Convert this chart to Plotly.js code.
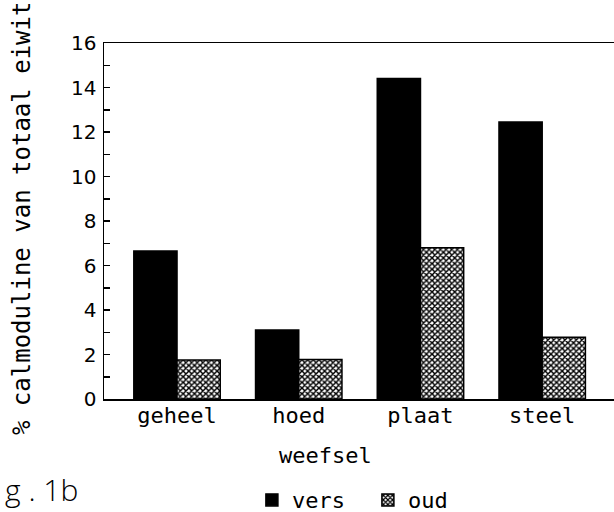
<!DOCTYPE html>
<html>
<head>
<meta charset="utf-8">
<script src="https://cdn.plot.ly/plotly-3.0.1.min.js"></script>
<style>html,body{margin:0;padding:0;background:#fff;}#chart{width:614px;height:512px;}</style>
</head>
<body>
<div id="chart"></div>
<script>
const categories = ["geheel", "hoed", "plaat", "steel"];
const versValues = [6.65, 3.1, 14.4, 12.45];
const oudValues = [1.75, 1.78, 6.8, 2.77];
const yTickVals = [0, 2, 4, 6, 8, 10, 12, 14, 16];
const seriesNames = ["vers", "oud"];
const yTitle = "% calmoduline van totaal eiwit";
const xTitle = "weefsel";
const figLabel = "g . 1b";

const mono = "DejaVu Sans Mono";
const traces = [
  {
    type: "bar", name: seriesNames[0], x: categories, y: versValues,
    marker: {color: "#000", line: {color: "#000", width: 1.5}}
  },
  {
    type: "bar", name: seriesNames[1], x: categories, y: oudValues,
    marker: {color: "#fff", line: {color: "#000", width: 1.5},
      pattern: {shape: "x", size: 4, solidity: 0.6, fgcolor: "#000", bgcolor: "#fff"}}
  }
];
const layout = {
  width: 614, height: 512,
  margin: {l: 104, r: 0, t: 43, b: 113, autoexpand: false},
  paper_bgcolor: "#fff", plot_bgcolor: "#fff",
  barmode: "group", bargap: 0.29, bargroupgap: 0,
  showlegend: true,
  legend: {orientation: "h", x: 0.29, y: -0.225, xanchor: "left", yanchor: "top",
    font: {family: mono, size: 22, color: "#000"}, itemwidth: 30, tracegroupgap: 0,
    entrywidth: 71},
  xaxis: {
    range: [-0.6, 3.59], showline: true, linecolor: "#000", linewidth: 1.5, mirror: true,
    ticks: "", showgrid: false, zeroline: false, ticklabelstandoff: -4,
    tickfont: {family: mono, size: 22, color: "#000"}
  },
  yaxis: {
    range: [0, 16], showline: true, linecolor: "#000", linewidth: 1.5, mirror: false,
    tickvals: yTickVals, ticks: "inside", ticklen: 6, tickwidth: 1.5, tickcolor: "#000",
    minor: {dtick: 1, ticks: "inside", ticklen: 6, tickwidth: 1.5, tickcolor: "#000"},
    showgrid: false, zeroline: false, ticklabelstandoff: 2,
    tickfont: {family: "DejaVu Sans", size: 20, color: "#000"}
  },
  annotations: [
    {text: yTitle, xref: "paper", yref: "paper", x: -0.161, y: 0.508, textangle: -90,
      showarrow: false, xanchor: "center", yanchor: "middle",
      font: {family: mono, size: 24, color: "#000"}},
    {text: xTitle, xref: "paper", yref: "paper", x: 0.435, y: -0.160,
      showarrow: false, xanchor: "center", yanchor: "middle",
      font: {family: mono, size: 22, color: "#000"}},
    {text: figLabel, xref: "paper", yref: "paper", x: -0.198, y: -0.253,
      showarrow: false, xanchor: "left", yanchor: "middle",
      font: {family: "Open Sans", size: 30, color: "#000", weight: 300}}
  ]
};
Plotly.newPlot("chart", traces, layout, {displayModeBar: false, staticPlot: true});
</script>
</body>
</html>
